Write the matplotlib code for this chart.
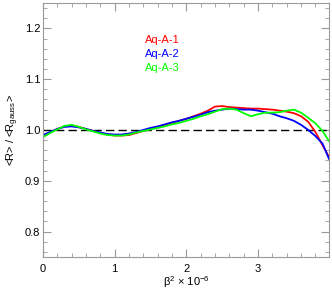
import numpy as np
import matplotlib
matplotlib.use('Agg')
import matplotlib.pyplot as plt
from matplotlib.ticker import MultipleLocator

plt.rcParams['font.family'] = ['Liberation Sans', 'DejaVu Sans']
plt.rcParams['mathtext.default'] = 'regular'

# beta^2 x 1e-6 sample points
beta2 = [0.0, 0.1, 0.2, 0.3, 0.4, 0.5, 0.6, 0.7, 0.8, 0.9,
         1.0, 1.1, 1.2, 1.3, 1.4, 1.5, 1.6, 1.7, 1.8, 1.9,
         2.0, 2.1, 2.2, 2.3, 2.4, 2.5, 2.6, 2.7, 2.8, 2.9,
         3.0, 3.1, 3.2, 3.3, 3.4, 3.5, 3.6, 3.7, 3.8, 3.9, 3.99]

aq1 = [0.988, 0.995, 1.002, 1.007, 1.009, 1.006, 1.002, 0.998, 0.994, 0.991,
       0.989, 0.989, 0.990, 0.994, 0.998, 1.002, 1.006, 1.010, 1.014, 1.018,
       1.022, 1.027, 1.032, 1.038, 1.046, 1.047, 1.045, 1.044, 1.043, 1.042,
       1.042, 1.041, 1.040, 1.038, 1.036, 1.033, 1.027, 1.016, 0.996, 0.970, 0.947]

aq2 = [0.990, 0.996, 1.002, 1.006, 1.007, 1.005, 1.002, 0.998, 0.995, 0.992,
       0.991, 0.991, 0.993, 0.996, 1.000, 1.004, 1.007, 1.011, 1.015, 1.018,
       1.022, 1.026, 1.030, 1.035, 1.038, 1.040, 1.042, 1.041, 1.040, 1.040,
       1.038, 1.035, 1.032, 1.027, 1.023, 1.018, 1.010, 1.000, 0.988, 0.973, 0.943]

aq3 = [0.986, 0.994, 1.001, 1.008, 1.010, 1.006, 1.001, 0.997, 0.993, 0.990,
       0.989, 0.989, 0.991, 0.995, 0.998, 1.001, 1.004, 1.007, 1.011, 1.014,
       1.018, 1.022, 1.027, 1.031, 1.036, 1.041, 1.042, 1.040, 1.033, 1.027,
       1.031, 1.034, 1.034, 1.035, 1.038, 1.040, 1.034, 1.024, 1.013, 0.998, 0.978]

names = ['Aq-A-1', 'Aq-A-2', 'Aq-A-3']
colors = ['#ff0000', '#0000ff', '#00ff00']

fig = plt.figure(figsize=(3.32, 2.95), dpi=100)
ax = fig.add_axes([0.1295, 0.129, 0.8615, 0.861])

ax.axhline(1.0, color='black', lw=1.0, ls=(0, (6, 3)))
for y, c in zip([aq1, aq2, aq3], colors):
    ax.plot(beta2, y, color=c, lw=1.3)

ax.set_xlim(0, 3.99)
ax.set_ylim(0.75, 1.25)
ax.xaxis.set_minor_locator(MultipleLocator(0.2))
ax.yaxis.set_minor_locator(MultipleLocator(0.02))
ax.set_xticks([0, 1, 2, 3])
ax.set_xticklabels(['0', '1', '2', '3'])
ax.set_yticks([0.8, 0.9, 1.0, 1.1, 1.2])
ax.set_yticklabels(['0.8', '0.9', '1.0', '1.1', '1.2'])

ax.tick_params(which='both', direction='in', top=True, right=True,
               color='#999999', labelsize=8)
ax.tick_params(which='major', length=6)
ax.tick_params(axis='y', which='major', pad=2)
ax.tick_params(axis='x', which='major', pad=5)
ax.tick_params(which='minor', length=3)
for s in ax.spines.values():
    s.set_color('#999999')

ax.set_xlabel(r'β$^{2}$ × 10$^{-6}$', fontsize=8, labelpad=0)
ax.set_ylabel(r'<R> / <R$_{gauss}$>', fontsize=8, labelpad=3)

for i, (n, c) in enumerate(zip(names, colors)):
    ax.text(0.357, 0.854 - i * 0.055, n, color=c, fontsize=8,
            transform=ax.transAxes, va='center')

fig.savefig('out.png', dpi=100)
